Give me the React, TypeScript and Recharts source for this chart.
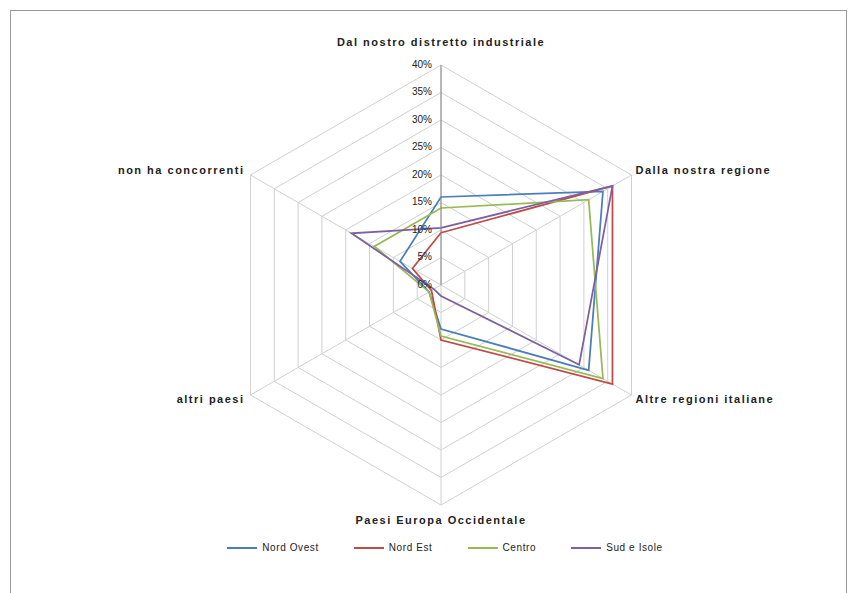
import { RadarChart, Radar, PolarGrid, PolarAngleAxis, PolarRadiusAxis } from 'recharts'

const categories = [
  'Dal nostro distretto industriale',
  'Dalla nostra regione',
  'Altre regioni italiane',
  'Paesi Europa Occidentale',
  'altri paesi',
  'non ha concorrenti',
]
const nordOvest = [16, 34, 31, 8, 2.5, 8.6]
const nordEst = [9.5, 36, 36, 10, 2, 6]
const centro = [14, 31, 34, 9.3, 2.5, 14]
const sudIsole = [10.4, 36, 29, 2, 1.5, 18.8]
const radiusTicks = [0, 5, 10, 15, 20, 25, 30, 35, 40]

const series = [
  { key: 'Nord Ovest', color: '#4a7ebb' },
  { key: 'Nord Est', color: '#be4b48' },
  { key: 'Centro', color: '#98b954' },
  { key: 'Sud e Isole', color: '#7d60a0' },
]

const data = categories.map((c, i) => ({
  cat: c,
  'Nord Ovest': nordOvest[i],
  'Nord Est': nordEst[i],
  'Centro': centro[i],
  'Sud e Isole': sudIsole[i],
}))

const font = 'Liberation Sans, Arial, sans-serif'

const AngleTick = ({ x, y, payload, cx, cy }: any) => {
  const dx = x - cx
  const dy = y - cy
  let anchor: 'start' | 'middle' | 'end' = 'middle'
  let tx = x
  let ty = y
  if (Math.abs(dx) < 2) {
    ty = dy < 0 ? y - 14 : y + 8
  } else if (dx > 0) {
    anchor = 'start'
    tx = x - 3
    ty = dy < 0 ? y : y + 1
  } else {
    anchor = 'end'
    tx = x + 1
    ty = dy < 0 ? y : y + 1
  }
  return (
    <text x={tx} y={ty} textAnchor={anchor} dominantBaseline="middle" fontSize={11} letterSpacing={1.5} fontFamily={font} fontWeight="bold" fill="#222">
      {payload.value}
    </text>
  )
}

const RadiusTick = ({ x, y, payload }: any) => (
  <text x={x - 9} y={y} textAnchor="end" dominantBaseline="middle" fontSize={10} fontFamily={font} fill="#222">
    {payload.value}%
  </text>
)

export default function App() {
  return (
    <div style={{ position: 'fixed', left: 0, top: 0, width: 855, height: 593, background: '#fff' }}>
      <div style={{ position: 'absolute', left: 10, top: 10, width: 835, height: 590, border: '1px solid #9a9a9a', borderBottom: 'none' }} />
      <RadarChart width={855} height={593} data={data} cx={441} cy={285} outerRadius={220} margin={{ top: 0, right: 0, bottom: 0, left: 0 }}>
        <PolarGrid gridType="polygon" stroke="#d0d0d0" polarRadius={[27.5, 55, 82.5, 110, 137.5, 165, 192.5, 220]} />
        <PolarAngleAxis dataKey="cat" tick={<AngleTick />} axisLine={false} tickLine={false} />
        <PolarRadiusAxis angle={90} domain={[0, 40]} ticks={radiusTicks as any} tick={<RadiusTick />} axisLine={{ stroke: '#888' }} tickLine={false} />
        {series.map(s => (
          <Radar key={s.key} dataKey={s.key} stroke={s.color} strokeWidth={1.75} fill="none" fillOpacity={0} isAnimationActive={false} />
        ))}
      </RadarChart>
      <div style={{ position: 'absolute', top: 542, left: 0, width: 855, display: 'flex', justifyContent: 'center', paddingLeft: 35, boxSizing: 'border-box', fontFamily: font, fontSize: 10, letterSpacing: 0.6, color: '#222' }}>
        {series.map((s, i) => (
          <div key={s.key} style={{ display: 'flex', alignItems: 'center', marginRight: i < series.length - 1 ? 35 : 0 }}>
            <div style={{ width: 30, height: 2, background: s.color, marginRight: 5 }} />
            <span>{s.key}</span>
          </div>
        ))}
      </div>
    </div>
  )
}
